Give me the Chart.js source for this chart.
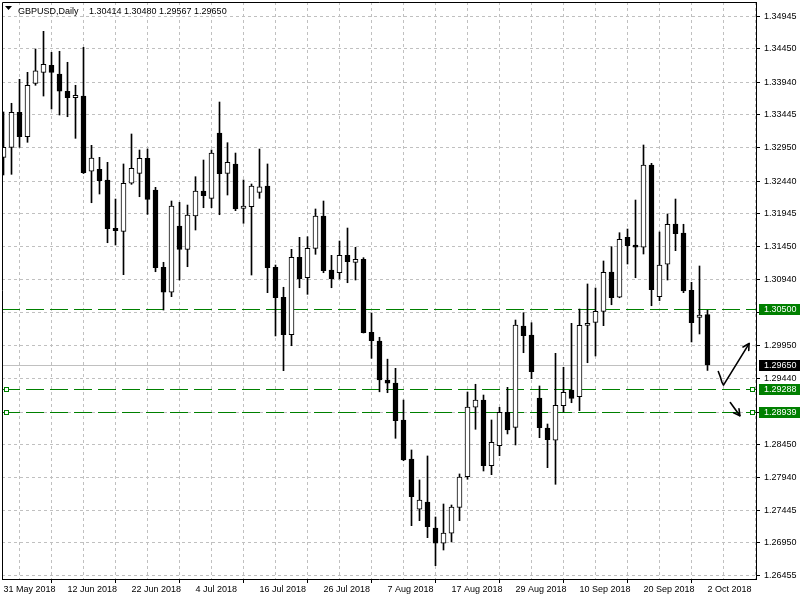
<!DOCTYPE html>
<html><head><meta charset="utf-8">
<script src="https://cdn.jsdelivr.net/npm/chart.js@4.4.1/dist/chart.umd.min.js"></script>
<style>html,body{margin:0;padding:0;background:#fff}#wrap{width:800px;height:600px}</style>
</head><body>
<div id="wrap"><canvas id="c" width="800" height="600"></canvas></div>
<script>
const symbolTitle = "GBPUSD,Daily";
const dateLabels = ["31 May 2018","12 Jun 2018","22 Jun 2018","4 Jul 2018","16 Jul 2018","26 Jul 2018","7 Aug 2018","17 Aug 2018","29 Aug 2018","10 Sep 2018","20 Sep 2018","2 Oct 2018"];
const opens = [1.32801,1.32953,1.33484,1.33114,1.33924,1.34091,1.34197,1.34065,1.33803,1.33706,
1.33731,1.32589,1.32619,1.32457,1.31724,1.31678,1.32407,1.32558,1.32786,1.32305,
1.31132,1.30753,1.31759,1.31405,1.31910,1.32290,1.32179,1.33170,1.32558,1.32700,
1.32027,1.32052,1.32270,1.32366,1.31132,1.30677,1.30109,1.31284,1.30974,1.31420,
1.31910,1.31091,1.31050,1.31314,1.31208,1.31253,1.30146,1.30014,1.29422,1.29376,
1.28815,1.28223,1.27460,1.27571,1.27176,1.26944,1.27096,1.27490,1.27955,1.29008,
1.29118,1.28122,1.28425,1.28932,1.28704,1.30241,1.30105,1.29149,1.28694,1.28507,
1.29032,1.29270,1.29169,1.30249,1.30297,1.30464,1.31061,1.30677,1.31587,1.31470,
1.31436,1.32684,1.30686,1.31178,1.31789,1.31653,1.30783,1.30373,1.30414];
const highs = [1.33489,1.33621,1.33985,1.34091,1.34445,1.34713,1.34394,1.34410,1.34243,1.33894,
1.34470,1.32983,1.32801,1.32725,1.32168,1.32700,1.33155,1.32912,1.32927,1.32346,
1.31208,1.32138,1.32118,1.32077,1.32507,1.32760,1.32912,1.33640,1.33023,1.32866,
1.32457,1.32396,1.32927,1.32700,1.31167,1.30829,1.31405,1.31587,1.31596,1.32017,
1.32138,1.31314,1.31531,1.31728,1.31436,1.31278,1.30439,1.30070,1.29738,1.29599,
1.29118,1.28360,1.27905,1.28269,1.27343,1.27540,1.27525,1.27996,1.29240,1.29357,
1.29194,1.28815,1.29008,1.29311,1.30332,1.30443,1.30291,1.29331,1.28754,1.29827,
1.29615,1.30282,1.30499,1.30879,1.30818,1.31228,1.31445,1.31657,1.31713,1.32153,
1.32988,1.32710,1.31668,1.31941,1.32168,1.31785,1.30904,1.31152,1.30480];
const lows = [1.32533,1.32543,1.32953,1.33029,1.33894,1.33731,1.33534,1.33443,1.33417,1.33089,
1.32555,1.32112,1.32244,1.31505,1.31470,1.31020,1.32391,1.32203,1.31936,1.31065,
1.30484,1.30686,1.30939,1.31141,1.31698,1.32036,1.32036,1.31930,1.32229,1.31991,
1.31800,1.31015,1.32179,1.30747,1.30090,1.29563,1.29942,1.30822,1.30722,1.31329,
1.31050,1.30822,1.30955,1.30898,1.30939,1.30135,1.29751,1.29243,1.29229,1.28537,
1.28197,1.27211,1.27287,1.27029,1.26604,1.26842,1.26964,1.27287,1.27915,1.28674,
1.28041,1.27985,1.28273,1.28603,1.28436,1.29836,1.29442,1.28546,1.28091,1.27839,
1.28936,1.29077,1.28956,1.29684,1.29786,1.30246,1.30564,1.30670,1.31182,1.30974,
1.31334,1.30549,1.30625,1.30939,1.31384,1.30747,1.29999,1.30120,1.29567];
const closes = [1.32953,1.33484,1.33114,1.33894,1.34115,1.34212,1.34091,1.33803,1.33706,1.33742,
1.32568,1.32791,1.32446,1.31718,1.31687,1.32407,1.32634,1.32786,1.32164,1.31126,
1.30753,1.32062,1.31405,1.31926,1.32290,1.32218,1.32866,1.32552,1.32725,1.32017,
1.32062,1.32366,1.32355,1.31126,1.30671,1.30109,1.31284,1.30959,1.31420,1.31910,
1.31080,1.30959,1.31314,1.31217,1.31253,1.30140,1.30018,1.29422,1.29372,1.28804,
1.28208,1.27651,1.27601,1.27196,1.26944,1.27100,1.27495,1.27950,1.29012,1.29118,
1.28122,1.28477,1.28932,1.28663,1.30256,1.30094,1.29548,1.28698,1.28516,1.29038,
1.29235,1.29144,1.30252,1.30282,1.30464,1.31056,1.30671,1.31557,1.31460,1.31436,
1.32684,1.30792,1.31167,1.31785,1.31642,1.30772,1.30291,1.30408,1.29650];
const priceTicks = [1.34945,1.34450,1.33940,1.33445,1.32950,1.32440,1.31945,1.31450,1.30940,1.30445,1.29950,1.29440,1.28935,1.28450,1.27940,1.27445,1.26950,1.26455];
const levelPrices = [1.30500, 1.29288, 1.28939];
const levelHandles = [false, true, true];
const bidPrice = 1.29650;
// hand-drawn arrows, in (bar index, price) coordinates
const arrowUp = [[89.35,1.29550],[89.6,1.29470],[89.8,1.29390],[90.0,1.29345],[93.2,1.29975]];
const arrowDown = [[90.85,1.29080],[92.05,1.28880]];

const FONT = 'Liberation Sans';
const GREEN = '#008000';
const n = opens.length;
const wickData = opens.map((o,i)=>({x:i, y:[lows[i], highs[i]]}));
const bodyData = opens.map((o,i)=>({x:i, y:[o, closes[i]]}));
const bodyColors = opens.map((o,i)=> closes[i] >= o ? '#ffffff' : '#000000');

function drawArrow(ctx, xs, ys, pts) {
  const p = pts.map(([a,b]) => [xs.getPixelForValue(a), ys.getPixelForValue(b)]);
  ctx.beginPath();
  ctx.moveTo(p[0][0], p[0][1]);
  for (let i = 1; i < p.length; i++) ctx.lineTo(p[i][0], p[i][1]);
  ctx.stroke();
  const [x2,y2] = p[p.length-1], [x1,y1] = p[p.length-2];
  const ang = Math.atan2(y2-y1, x2-x1), L = 7;
  ctx.beginPath();
  ctx.moveTo(x2 - L*Math.cos(ang-0.5), y2 - L*Math.sin(ang-0.5));
  ctx.lineTo(x2, y2);
  ctx.lineTo(x2 - L*Math.cos(ang+0.5), y2 - L*Math.sin(ang+0.5));
  ctx.stroke();
}

const overlay = {
  id: 'overlay',
  beforeDatasetsDraw(chart) {
    const {ctx, chartArea: a, scales: {x, y}} = chart;
    ctx.save();
    ctx.beginPath(); ctx.rect(a.left, a.top, a.right - a.left, a.bottom - a.top); ctx.clip();
    const by = Math.round(y.getPixelForValue(bidPrice)) + 0.5;
    ctx.strokeStyle = '#c0c0c0'; ctx.lineWidth = 1; ctx.setLineDash([]);
    ctx.beginPath(); ctx.moveTo(a.left, by); ctx.lineTo(a.right, by); ctx.stroke();
    levelPrices.forEach((p, i) => {
      const ly = Math.round(y.getPixelForValue(p)) + 0.5;
      ctx.strokeStyle = GREEN; ctx.setLineDash([18, 6]);
      ctx.beginPath(); ctx.moveTo(a.left, ly); ctx.lineTo(a.right, ly); ctx.stroke();
    });
    ctx.restore();
  },
  afterDraw(chart) {
    const {ctx, chartArea: a, scales: {x, y}} = chart;
    ctx.save();
    ctx.strokeStyle = '#000'; ctx.lineWidth = 1; ctx.setLineDash([]);
    ctx.beginPath();
    ctx.moveTo(a.left + 0.5, a.bottom); ctx.lineTo(a.left + 0.5, a.top + 0.5); ctx.lineTo(a.right, a.top + 0.5);
    ctx.stroke();
    levelPrices.forEach((p, i) => {
      if (!levelHandles[i]) return;
      const ly = Math.round(y.getPixelForValue(p)) + 0.5;
      ctx.fillStyle = '#fff'; ctx.strokeStyle = GREEN;
      [a.left + 2, a.right - 6].forEach(hx => {
        ctx.fillRect(hx, ly - 2, 4, 4);
        ctx.strokeRect(hx + 0.5, ly - 2, 4, 4);
      });
    });
    ctx.strokeStyle = '#000'; ctx.lineWidth = 1.6; ctx.lineCap = 'round'; ctx.lineJoin = 'round';
    drawArrow(ctx, x, y, arrowUp);
    drawArrow(ctx, x, y, arrowDown);
    ctx.font = '9px "' + FONT + '"';
    ctx.textBaseline = 'middle'; ctx.textAlign = 'left';
    const boxes = levelPrices.map(p => [p, GREEN]).concat([[bidPrice, '#000']]);
    boxes.forEach(([p, col]) => {
      const ly = Math.round(y.getPixelForValue(p));
      ctx.fillStyle = col;
      ctx.fillRect(a.right + 3, ly - 5, 41, 11);
      ctx.fillStyle = '#fff';
      ctx.fillText(p.toFixed(5), a.right + 8, ly + 0.5);
    });
    ctx.fillStyle = '#000';
    ctx.beginPath(); ctx.moveTo(5, 6); ctx.lineTo(12, 6); ctx.lineTo(8.5, 10); ctx.closePath(); ctx.fill();
    ctx.textBaseline = 'alphabetic';
    ctx.fillText(symbolTitle, 18, 14);
    const last = n - 1;
    ctx.fillText([opens[last], highs[last], lows[last], closes[last]].map(v => v.toFixed(5)).join(' '), 89, 14);
    ctx.restore();
  }
};

new Chart(document.getElementById('c'), {
  type: 'bar',
  data: {
    datasets: [
      { data: bodyData, backgroundColor: bodyColors, borderColor: '#000', borderWidth: 1, borderSkipped: false,
        barThickness: 5, grouped: false, order: 0 },
      { data: wickData, backgroundColor: '#000', borderWidth: 0, barThickness: 1, grouped: false, order: 1 }
    ]
  },
  options: {
    responsive: false, animation: false,
    layout: { padding: { left: 2, top: 2, right: 0, bottom: 0 } },
    plugins: { legend: { display: false }, tooltip: { enabled: false } },
    scales: {
      x: {
        type: 'linear', offset: false, min: -0.1875, max: 94.0625,
        afterBuildTicks: s => { const t = []; for (let v = 0; v <= 92; v += 4) t.push({ value: v }); s.ticks = t; },
        afterFit: s => { s.height = 21; s.paddingLeft = 0; s.paddingRight = 0; s.paddingTop = 0; s.paddingBottom = 0; },
        ticks: { autoSkip: false, maxRotation: 0, align: 'start', padding: 1, color: '#000',
          font: { family: FONT, size: 9 },
          callback: v => (v % 8 === 0 ? dateLabels[v / 8] : '') },
        grid: { color: c => (c.tick && c.tick.value === 0 ? 'rgba(0,0,0,0)' : '#c0c0c0'), lineWidth: 1,
          tickLength: 4, tickColor: c => (c.tick && c.tick.value % 8 === 0 ? '#000' : 'rgba(0,0,0,0)') },
        border: { display: true, color: '#000', width: 1, dash: [3, 3] }
      },
      y: {
        type: 'linear', position: 'right', min: 1.26402, max: 1.35158,
        afterBuildTicks: s => { s.ticks = priceTicks.map(v => ({ value: v })); },
        afterFit: s => { s.width = 44; s.paddingLeft = 0; s.paddingRight = 0; s.paddingTop = 0; s.paddingBottom = 0; },
        ticks: { autoSkip: false, padding: 4, color: '#000', font: { family: FONT, size: 9 },
          callback: v => v.toFixed(5) },
        grid: { color: '#c0c0c0', lineWidth: 1, tickLength: 4, tickColor: '#000' },
        border: { display: true, color: '#000', width: 1, dash: [3, 3] }
      }
    }
  },
  plugins: [overlay]
});
</script>
</body></html>
